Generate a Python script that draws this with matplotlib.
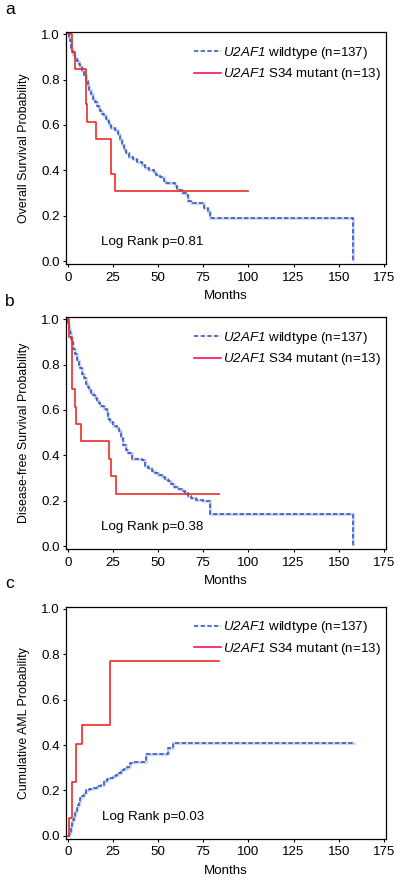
import matplotlib
matplotlib.use("Agg")
import matplotlib.pyplot as plt
from matplotlib.lines import Line2D

plt.rcParams["font.family"] = "Liberation Sans"
# math text is only used for the italic gene name, digits included
plt.rcParams["mathtext.fontset"] = "custom"
plt.rcParams["mathtext.rm"] = "Liberation Sans:italic"
plt.rcParams["mathtext.it"] = "Liberation Sans:italic"

# panel a: overall survival
os_wt_t = [0, 0.5, 1, 1.5, 2, 2.5, 3, 4, 5, 6, 7, 8, 9, 10, 11, 12, 13, 14, 15, 16, 17, 18, 19, 20,
           21, 22, 23, 24, 26, 28, 29, 30, 31, 32, 34, 36, 38.5, 41, 43, 45, 47.5, 49, 51, 53, 54.5,
           59.5, 60.5, 63, 65.5, 66.5, 68, 75.5, 77.5, 79, 158]
os_wt_s = [1.0, 0.99, 0.97, 0.955, 0.94, 0.925, 0.91, 0.895, 0.88, 0.87, 0.855, 0.84, 0.82, 0.795,
           0.775, 0.755, 0.735, 0.715, 0.7, 0.683, 0.672, 0.66, 0.65, 0.64, 0.628, 0.618, 0.6, 0.585,
           0.578, 0.56, 0.535, 0.51, 0.49, 0.475, 0.46, 0.448, 0.438, 0.425, 0.41, 0.402, 0.392, 0.38,
           0.37, 0.355, 0.343, 0.33, 0.315, 0.302, 0.29, 0.265, 0.255, 0.235, 0.215, 0.188, 0.0]
os_mut_t = [0, 2.5, 4.2, 10, 10.6, 15.5, 24, 26.4, 100]
os_mut_s = [1.0, 0.923, 0.846, 0.692, 0.615, 0.538, 0.385, 0.308, 0.308]

# panel b: disease-free survival
dfs_wt_t = [0, 0.3, 0.8, 1.2, 1.7, 2.2, 3, 4, 5, 6, 7, 8, 9, 10, 11, 12, 13, 14, 15, 16, 17, 18, 20,
            21.5, 22.5, 23.5, 25, 27, 28.5, 29.3, 30.5, 32, 33.5, 35.4, 41, 42.8, 44.5, 46.5, 48.5,
            50.2, 52, 54, 55.5, 57, 59, 61, 63, 65, 66.5, 68.5, 71, 75, 78.5, 158]
dfs_wt_s = [1.0, 0.985, 0.96, 0.94, 0.915, 0.9, 0.87, 0.845, 0.82, 0.8, 0.785, 0.76, 0.74, 0.715,
            0.7, 0.688, 0.675, 0.665, 0.652, 0.64, 0.63, 0.618, 0.605, 0.585, 0.56, 0.545, 0.53,
            0.522, 0.505, 0.475, 0.445, 0.425, 0.41, 0.385, 0.378, 0.352, 0.343, 0.332, 0.324, 0.315,
            0.303, 0.295, 0.285, 0.272, 0.26, 0.25, 0.242, 0.232, 0.22, 0.21, 0.205, 0.198, 0.14, 0.0]
dfs_mut_t = [0, 0.5, 2.5, 4.1, 4.5, 7.2, 22.9, 24, 26.5, 83.5]
dfs_mut_s = [1.0, 0.923, 0.692, 0.615, 0.538, 0.462, 0.385, 0.308, 0.231, 0.231]

# panel c: cumulative AML incidence
aml_wt_t = [0, 0.5, 1, 1.5, 2, 2.5, 3, 3.5, 4, 4.5, 5, 5.5, 6, 6.5, 7, 8, 9, 10, 12, 14, 16, 18.5,
            20, 21.5, 23, 25, 26.5, 28, 29.5, 31, 33, 34.5, 36, 43.5, 55.5, 58, 159]
aml_wt_s = [0.0, 0.007, 0.015, 0.03, 0.045, 0.06, 0.07, 0.085, 0.1, 0.11, 0.125, 0.135, 0.145,
            0.155, 0.165, 0.175, 0.19, 0.2, 0.205, 0.212, 0.218, 0.225, 0.24, 0.25, 0.255, 0.262,
            0.27, 0.278, 0.29, 0.295, 0.305, 0.32, 0.325, 0.36, 0.385, 0.41, 0.41]
aml_mut_t = [0, 0.7, 2.5, 4.4, 7.7, 23.4, 83.7]
aml_mut_s = [0.0, 0.077, 0.235, 0.404, 0.49, 0.772, 0.772]

panels = [
    ("a", "Overall Survival Probability", os_wt_t, os_wt_s, os_mut_t, os_mut_s, "Log Rank p=0.81"),
    ("b", "Disease-free Survival Probability", dfs_wt_t, dfs_wt_s, dfs_mut_t, dfs_mut_s, "Log Rank p=0.38"),
    ("c", "Cumulative AML Probability", aml_wt_t, aml_wt_s, aml_mut_t, aml_mut_s, "Log Rank p=0.03"),
]
legend_labels = [r"$\mathrm{U2AF1}$ wildtype (n=137)", r"$\mathrm{U2AF1}$ S34 mutant (n=13)"]
xticks = [0, 25, 50, 75, 100, 125, 150, 175]
yticks = [0.0, 0.2, 0.4, 0.6, 0.8, 1.0]

blue = "#3b5bbf"
halo = "#c9d4f2"
red = "#ee2a2a"
fs = 9.6

fig = plt.figure(figsize=(4, 8.82), dpi=100)
bottoms = [0.7007, 0.3776, 0.0491]
letter_y = [0.989, 0.658, 0.339]

for (letter, ylab, wt_t, wt_s, mt_t, mt_s, ptxt), b, ly in zip(panels, bottoms, letter_y):
    ax = fig.add_axes([0.165, b, 0.799, 0.263])
    ax.plot(wt_t, wt_s, drawstyle="steps-post", color=halo, lw=2.0, solid_capstyle="butt")
    ax.plot(wt_t, wt_s, drawstyle="steps-post", color=blue, lw=1.2, dashes=(2.6, 1.4))
    ax.plot(mt_t, mt_s, drawstyle="steps-post", color=red, lw=1.2)
    ax.set_xlim(-1, 176)
    ax.set_ylim(-0.013, 1.01)
    ax.set_xticks(xticks)
    ax.set_yticks(yticks)
    ax.set_yticklabels(["%.1f" % v for v in yticks])
    ax.tick_params(direction="out", length=2.5, width=0.8, labelsize=fs, pad=1.8)
    ax.tick_params(axis="x", pad=3)
    for s in ax.spines.values():
        s.set_linewidth(0.9)
    ax.set_ylabel(ylab, fontsize=8.9)
    ax.yaxis.set_label_coords(-0.113, 0.5)
    ax.set_xlabel("Months", fontsize=fs)
    ax.xaxis.set_label_coords(0.5, -0.112)
    ax.text(47, 0.082, ptxt, fontsize=fs, ha="center", va="center")
    handles = [Line2D([], [], color=blue, lw=1.2, dashes=(2.6, 1.4)),
               Line2D([], [], color="#f0185a", lw=1.2)]
    ax.legend(handles, legend_labels, loc="upper left", bbox_to_anchor=(0.4, 0.945),
              frameon=False, fontsize=fs, handlelength=2.05, handletextpad=0.15,
              labelspacing=0.42, borderpad=0, borderaxespad=0)
    fig.text(0.025, ly, letter, fontsize=12.5, ha="center", va="center")

fig.savefig("out.png", dpi=100)
